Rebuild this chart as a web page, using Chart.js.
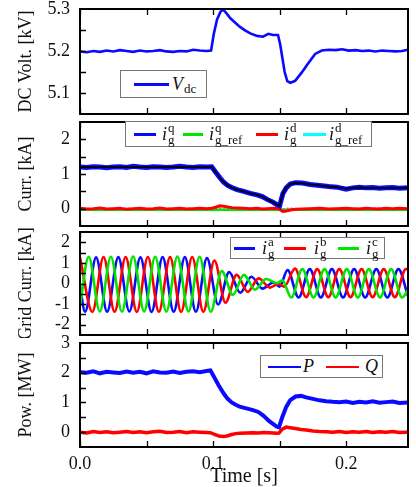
<!DOCTYPE html>
<html>
<head>
<meta charset="utf-8">
<script src="https://cdn.jsdelivr.net/npm/chart.js@4.4.0/dist/chart.umd.min.js"></script>
<style>
  body { margin: 0; background: #fff; }
  #wrap { position: relative; width: 416px; height: 487px; overflow: hidden;
          font-family: "Liberation Serif", "DejaVu Serif", serif; color: #111; }
  canvas.pan { position: absolute; left: 0; }
  .leg { position: absolute; background: #fff; border: 1px solid #777; box-sizing: border-box; }
  .ln { position: absolute; top: 50%; height: 2.5px; margin-top: -1px; }
  .tx { position: absolute; top: 0; bottom: 0; display: flex; align-items: center; font-size: 18px; }
  .sb { font-size: 13px; position: relative; top: 5px; margin-left: 1px; }
  .ss { display: inline-flex; flex-direction: column; font-size: 13px; line-height: 12px; margin-left: 1px; }
</style>
</head>
<body>
<div id="wrap">
  <canvas id="p1" class="pan" width="416" height="118" style="top:0px"></canvas>
  <canvas id="p2" class="pan" width="416" height="112" style="top:118px"></canvas>
  <canvas id="p3" class="pan" width="416" height="110" style="top:228px"></canvas>
  <canvas id="p4" class="pan" width="416" height="155" style="top:332px"></canvas>

  <div class="leg" style="left:120px;top:70px;width:87px;height:28px">
    <span class="ln" style="left:13px;width:35px;background:#0a0aff"></span>
    <span class="tx" style="left:51px"><i>V</i><span class="sb">dc</span></span>
  </div>

  <div class="leg" style="left:125px;top:121px;width:247px;height:26px">
    <span class="ln" style="left:8px;width:22px;background:#0a0aff"></span>
    <span class="tx" style="left:36px"><i>i</i><span class="ss"><span>q</span><span>g</span></span></span>
    <span class="ln" style="left:57px;width:20px;background:#00e600"></span>
    <span class="tx" style="left:83px"><i>i</i><span class="ss"><span>q</span><span>g_ref</span></span></span>
    <span class="ln" style="left:130px;width:22px;background:#ff0000"></span>
    <span class="tx" style="left:158px"><i>i</i><span class="ss"><span>d</span><span>g</span></span></span>
    <span class="ln" style="left:177px;width:23px;background:#00ffff"></span>
    <span class="tx" style="left:203px"><i>i</i><span class="ss"><span>d</span><span>g_ref</span></span></span>
  </div>

  <div class="leg" style="left:230px;top:237px;width:155px;height:22px">
    <span class="ln" style="left:3px;width:21px;background:#0a0aff"></span>
    <span class="tx" style="left:31px"><i>i</i><span class="ss"><span>a</span><span>g</span></span></span>
    <span class="ln" style="left:53px;width:22px;background:#ff0000"></span>
    <span class="tx" style="left:83px"><i>i</i><span class="ss"><span>b</span><span>g</span></span></span>
    <span class="ln" style="left:107px;width:21px;background:#00e600"></span>
    <span class="tx" style="left:135px"><i>i</i><span class="ss"><span>c</span><span>g</span></span></span>
  </div>

  <div class="leg" style="left:260px;top:355px;width:123px;height:23px">
    <span class="ln" style="left:7px;width:33px;background:#0a0aff"></span>
    <span class="tx" style="left:42px"><i>P</i></span>
    <span class="ln" style="left:65px;width:33px;background:#ff0000"></span>
    <span class="tx" style="left:104px"><i>Q</i></span>
  </div>
</div>

<script>
// ---- axes ----
const T_MAX = 0.2465;
const xMarks = [0, 0.05, 0.1, 0.15, 0.2];
const xLabels = [0, 0.1, 0.2];

const yLabels1 = [5.1, 5.2, 5.3];
const yMarks1 = [5.1, 5.15, 5.2, 5.25];
const yLabels2 = [0, 1, 2];
const yMarks2 = [0, 0.5, 1, 1.5, 2];
const yLabels3 = [-2, -1, 0, 1, 2];
const yMarks3 = [-2, -1.5, -1, -0.5, 0, 0.5, 1, 1.5, 2];
const yLabels4 = [0, 1, 2, 3];
const yMarks4 = [0, 0.5, 1, 1.5, 2, 2.5];

// ---- DC voltage [kV] ----
const tV = [0, 0.005, 0.01, 0.015, 0.02, 0.025, 0.03, 0.035, 0.04, 0.045, 0.05, 0.055, 0.06, 0.065, 0.07, 0.075, 0.08, 0.085, 0.09, 0.095,
  0.0985, 0.1005, 0.103, 0.1055, 0.1075, 0.110, 0.113, 0.1165, 0.120, 0.124, 0.128, 0.133, 0.1375, 0.1415, 0.145, 0.1488,
  0.1505, 0.152, 0.1538, 0.1558, 0.158, 0.1617, 0.1667, 0.1714, 0.1767, 0.1817,
  0.187, 0.192, 0.197, 0.202, 0.207, 0.212, 0.217, 0.222, 0.227, 0.232, 0.237, 0.242, 0.2465];
const vdc = [5.199, 5.197, 5.200, 5.198, 5.201, 5.199, 5.202, 5.200, 5.198, 5.201, 5.199, 5.200, 5.202, 5.199, 5.198, 5.200, 5.199, 5.203, 5.201, 5.200,
  5.201, 5.240, 5.275, 5.293, 5.299, 5.290, 5.278, 5.268, 5.258, 5.249, 5.242, 5.236, 5.234, 5.241, 5.238, 5.238,
  5.215, 5.185, 5.150, 5.128, 5.124, 5.129, 5.149, 5.170, 5.193, 5.201,
  5.203, 5.202, 5.204, 5.201, 5.202, 5.200, 5.201, 5.199, 5.201, 5.200, 5.199, 5.200, 5.203];

// ---- dq currents [kA] ----
const tI = [0, 0.005, 0.01, 0.015, 0.02, 0.025, 0.03, 0.035, 0.04, 0.045, 0.05, 0.055, 0.06, 0.065, 0.07, 0.075, 0.08, 0.085, 0.09, 0.095,
  0.099, 0.102, 0.105, 0.108, 0.111, 0.114, 0.118, 0.123, 0.128, 0.133, 0.137, 0.141, 0.145, 0.1485, 0.150,
  0.1525, 0.155, 0.158, 0.162, 0.167, 0.173, 0.18, 0.187, 0.193, 0.2,
  0.205, 0.21, 0.215, 0.22, 0.225, 0.23, 0.235, 0.24, 0.2465];
const iq = [1.20, 1.19, 1.21, 1.20, 1.18, 1.20, 1.21, 1.19, 1.22, 1.20, 1.19, 1.21, 1.20, 1.19, 1.20, 1.22, 1.20, 1.19, 1.21, 1.20,
  1.21, 1.05, 0.90, 0.76, 0.67, 0.61, 0.55, 0.50, 0.44, 0.40, 0.35, 0.26, 0.19, 0.10, 0.08,
  0.44, 0.60, 0.71, 0.75, 0.74, 0.70, 0.67, 0.64, 0.62, 0.56,
  0.60, 0.62, 0.60, 0.61, 0.59, 0.60, 0.61, 0.59, 0.60];
const iqTrack = [1.20, 1.20, 1.20, 1.20, 1.20, 1.20, 1.20, 1.20, 1.20, 1.20, 1.20, 1.20, 1.20, 1.20, 1.20, 1.20, 1.20, 1.20, 1.20, 1.20,
  1.20, 1.05, 0.90, 0.76, 0.67, 0.61, 0.55, 0.50, 0.44, 0.40, 0.35, 0.26, 0.19, 0.10, 0.08,
  0.44, 0.61, 0.71, 0.74, 0.73, 0.70, 0.67, 0.64, 0.62, 0.58,
  0.60, 0.61, 0.60, 0.60, 0.60, 0.60, 0.60, 0.60, 0.60];
const id = [0.01, -0.01, 0.00, 0.02, -0.01, 0.00, 0.01, -0.02, 0.00, 0.01, -0.01, 0.00, 0.02, -0.01, 0.00, 0.01, -0.01, 0.00, 0.01, 0.00,
  0.01, 0.04, 0.08, 0.07, 0.05, 0.03, 0.02, 0.01, 0.00, 0.01, -0.01, 0.00, 0.01, 0.00, -0.02,
  -0.08, -0.07, -0.04, -0.02, -0.01, 0.00, 0.01, -0.01, 0.00, 0.01,
  0.00, -0.01, 0.01, 0.00, -0.01, 0.01, 0.00, 0.01, 0.00];
const idRef = [-0.01, 0.01, -0.02, 0.00, 0.01, -0.01, 0.00, 0.02, -0.01, 0.00, 0.01, -0.02, 0.00, 0.01, -0.01, 0.00, 0.02, -0.01, 0.00, 0.01,
  -0.01, 0.00, 0.01, -0.01, 0.00, 0.02, -0.01, 0.00, 0.01, -0.01, 0.00, 0.01, -0.02, 0.00, 0.01,
  -0.01, 0.00, 0.02, -0.01, 0.00, 0.01, -0.01, 0.00, 0.01, -0.02,
  0.00, 0.01, -0.01, 0.00, 0.02, -0.01, 0.00, 0.01, -0.01];
const tFlat = [0, 0.2465];
const iqRefLow = [-0.03, -0.03];

// ---- grid phase currents [kA], peaks and troughs ----
const tA = [0, 0.0038, 0.0121, 0.0204, 0.0288, 0.0371, 0.0454, 0.0538, 0.0621, 0.0704, 0.0788, 0.0871, 0.0954, 0.1038, 0.1121, 0.1204, 0.1288, 0.1371, 0.1454,
  0.1500, 0.1560, 0.1643, 0.1727, 0.1810, 0.1893, 0.1977, 0.2060, 0.2143, 0.2227, 0.2310, 0.2393, 0.2465];
const ia = [-0.15, -1.37, 1.27, -1.37, 1.28, -1.36, 1.27, -1.38, 1.28, -1.37, 1.28, -1.37, 1.23, -1.02, 0.55, -0.45, 0.33, -0.25, 0.05,
  -0.15, 0.65, -0.68, 0.70, -0.68, 0.70, -0.68, 0.70, -0.68, 0.70, -0.68, 0.70, -0.62];
const tB = [0, 0.0093, 0.0177, 0.0260, 0.0343, 0.0427, 0.0510, 0.0593, 0.0677, 0.0760, 0.0843, 0.0927, 0.1010, 0.1093, 0.1177, 0.1260, 0.1343, 0.1427,
  0.1490, 0.1535, 0.1616, 0.1699, 0.1783, 0.1866, 0.1949, 0.2033, 0.2116, 0.2199, 0.2283, 0.2366, 0.2449, 0.2465];
const ib = [1.27, -1.38, 1.29, -1.37, 1.28, -1.38, 1.29, -1.37, 1.28, -1.38, 1.29, -1.37, 1.12, -0.93, 0.42, -0.40, 0.25, -0.20,
  -0.02, -0.15, 0.72, -0.66, 0.70, -0.66, 0.70, -0.66, 0.70, -0.66, 0.70, -0.66, 0.70, 0.68];
const tC = [0, 0.0065, 0.0149, 0.0232, 0.0315, 0.0399, 0.0482, 0.0565, 0.0649, 0.0732, 0.0815, 0.0899, 0.0982, 0.1065, 0.1149, 0.1232, 0.1315, 0.1399, 0.1482,
  0.1520, 0.1588, 0.1671, 0.1755, 0.1838, 0.1921, 0.2005, 0.2088, 0.2171, 0.2255, 0.2338, 0.2421, 0.2465];
const ic = [-1.07, 1.30, -1.36, 1.30, -1.37, 1.31, -1.36, 1.30, -1.37, 1.31, -1.36, 1.30, -1.37, 0.60, -0.55, 0.42, -0.30, 0.22, 0.02,
  0.15, -0.68, 0.70, -0.68, 0.70, -0.68, 0.70, -0.68, 0.70, -0.68, 0.70, -0.68, -0.30];

// ---- power [MW] ----
const tP = [0, 0.005, 0.01, 0.015, 0.02, 0.025, 0.03, 0.035, 0.04, 0.045, 0.05, 0.055, 0.06, 0.065, 0.07, 0.075, 0.08, 0.085, 0.09, 0.095,
  0.098, 0.1015, 0.1045, 0.108, 0.111, 0.114, 0.117, 0.12, 0.125, 0.13, 0.134, 0.138, 0.142, 0.145, 0.148, 0.1495,
  0.152, 0.155, 0.158, 0.162, 0.166, 0.17, 0.175, 0.18, 0.185, 0.19, 0.195, 0.2,
  0.205, 0.21, 0.215, 0.22, 0.225, 0.23, 0.235, 0.24, 0.2465];
const P = [2.02, 2.00, 2.05, 1.98, 2.03, 2.01, 1.99, 2.04, 2.00, 2.03, 1.98, 2.05, 2.01, 2.00, 2.04, 1.99, 2.03, 2.05, 2.02, 2.06,
  2.08, 1.80, 1.55, 1.30, 1.12, 1.00, 0.92, 0.86, 0.80, 0.74, 0.68, 0.55, 0.38, 0.28, 0.18, 0.16,
  0.50, 0.85, 1.08, 1.20, 1.22, 1.17, 1.12, 1.07, 1.04, 1.02, 1.01, 1.03,
  0.98, 1.02, 1.00, 1.04, 0.99, 1.01, 1.03, 0.98, 1.00];
const Q = [0.00, -0.03, 0.02, -0.01, 0.01, -0.02, 0.00, 0.02, -0.01, 0.01, -0.02, 0.01, 0.03, -0.01, 0.00, 0.02, -0.02, 0.01, 0.00, -0.01,
  -0.02, -0.08, -0.13, -0.15, -0.12, -0.08, -0.05, -0.04, -0.03, -0.02, -0.03, -0.01, -0.02, -0.03, -0.04, -0.03,
  0.10, 0.17, 0.15, 0.12, 0.09, 0.07, 0.04, 0.02, 0.01, 0.00, 0.02, -0.01,
  0.01, 0.00, 0.02, -0.01, 0.01, 0.00, 0.02, -0.01, 0.00];

// ---- colours ----
const BLUE = '#0a0aff', RED = '#ff0000', GREEN = '#00e600', MAGENTA = '#ff33ff';
const FONT = '"Liberation Serif", "DejaVu Serif", serif';

const pts = (t, v) => t.map((x, i) => ({ x, y: v[i] }));

function line(t, v, color, width, extra) {
  return Object.assign({
    data: pts(t, v), borderColor: color, borderWidth: width,
    pointRadius: 0, fill: false, tension: 0
  }, extra || {});
}

// box round the plot area and inward tick marks
const framePlugin = {
  id: 'frame',
  afterDatasetsDraw(chart, args, opts) {
    const { ctx, chartArea: a, scales: { x, y } } = chart;
    ctx.save();
    ctx.strokeStyle = '#000';
    ctx.lineWidth = 1.3;
    ctx.beginPath();
    xMarks.forEach((v) => {
      const px = Math.round(x.getPixelForValue(v)) + 0.5;
      ctx.moveTo(px, a.top); ctx.lineTo(px, a.top + 6);
      ctx.moveTo(px, a.bottom); ctx.lineTo(px, a.bottom - 6);
    });
    (opts.yMarks || []).forEach((v) => {
      const py = Math.round(y.getPixelForValue(v)) + 0.5;
      ctx.moveTo(a.left, py); ctx.lineTo(a.left + 6, py);
    });
    ctx.stroke();
    ctx.lineWidth = 2;
    ctx.strokeRect(a.left, a.top, a.right - a.left, a.bottom - a.top);
    ctx.restore();
  }
};

// labels may overhang the plot box; no extra room for them
const noOverhang = (s) => { s.paddingTop = 0; s.paddingBottom = 0; s.paddingLeft = 0; s.paddingRight = 0; };

function panel(id, o) {
  const fixTicks = (vals) => (s) => { s.ticks = vals.map((v) => ({ value: v })); };
  return new Chart(document.getElementById(id), {
    type: 'line',
    data: { datasets: o.datasets },
    options: {
      responsive: false,
      animation: false,
      events: [],
      layout: { padding: { left: 0, right: 8, top: o.padTop, bottom: o.padBottom } },
      plugins: { legend: { display: false }, tooltip: { enabled: false }, frame: { yMarks: o.yMarks } },
      scales: {
        x: {
          type: 'linear', min: 0, max: T_MAX, display: !!o.showX,
          afterBuildTicks: fixTicks(xLabels),
          afterFit: (s) => { s.height = o.showX ? 40 : 0; noOverhang(s); },
          grid: { display: false, drawTicks: false }, border: { display: false },
          ticks: { color: '#111', padding: 6, autoSkip: false, maxRotation: 0, font: { family: FONT, size: 18 }, callback: (v) => v.toFixed(1) },
          title: { display: true, text: 'Time [s]', color: '#111', padding: { top: 0, bottom: 0 }, font: { family: FONT, size: 20, lineHeight: 1 } }
        },
        y: {
          min: o.min, max: o.max,
          afterBuildTicks: fixTicks(o.yLabels),
          afterFit: (s) => { s.width = 80; noOverhang(s); },
          grid: { display: false, drawTicks: false }, border: { display: false },
          ticks: { color: '#111', padding: 10, autoSkip: false, font: { family: FONT, size: 18 }, callback: o.fmt || ((v) => String(v)) },
          title: { display: true, text: o.title, color: '#111', padding: { top: 15, bottom: 0 }, font: { family: FONT, size: 18 } }
        }
      }
    },
    plugins: [framePlugin]
  });
}

panel('p1', {
  padTop: 9, padBottom: 4, min: 5.05, max: 5.3,
  yLabels: yLabels1, yMarks: yMarks1, fmt: (v) => v.toFixed(1), title: 'DC Volt. [kV]',
  datasets: [line(tV, vdc, BLUE, 2.6)]
});

panel('p2', {
  padTop: 4, padBottom: 4, min: -0.5, max: 2.5,
  yLabels: yLabels2, yMarks: yMarks2, title: 'Curr. [kA]',
  datasets: [
    line(tI, iqTrack, '#000', 1.8, { order: 0 }),
    line(tI, iq, BLUE, 5, { order: 1 }),
    line(tI, id, RED, 3, { order: 2 }),
    line(tFlat, iqRefLow, GREEN, 2.5, { order: 3 }),
    line(tI, idRef, MAGENTA, 1.5, { order: 4, borderDash: [2, 2] })
  ]
});

panel('p3', {
  padTop: 4, padBottom: 3, min: -2.5, max: 2.5,
  yLabels: yLabels3, yMarks: yMarks3, title: 'Grid Curr. [kA]',
  datasets: [
    line(tC, ic, GREEN, 2.6, { order: 0, cubicInterpolationMode: 'monotone' }),
    line(tB, ib, RED, 2.6, { order: 1, cubicInterpolationMode: 'monotone' }),
    line(tA, ia, BLUE, 2.6, { order: 2, cubicInterpolationMode: 'monotone' })
  ]
});

panel('p4', {
  padTop: 11, padBottom: 0, min: -0.5, max: 3, showX: true,
  yLabels: yLabels4, yMarks: yMarks4, title: 'Pow. [MW]',
  datasets: [
    line(tP, P, BLUE, 4),
    line(tP, Q, RED, 3.5)
  ]
});
</script>
</body>
</html>
